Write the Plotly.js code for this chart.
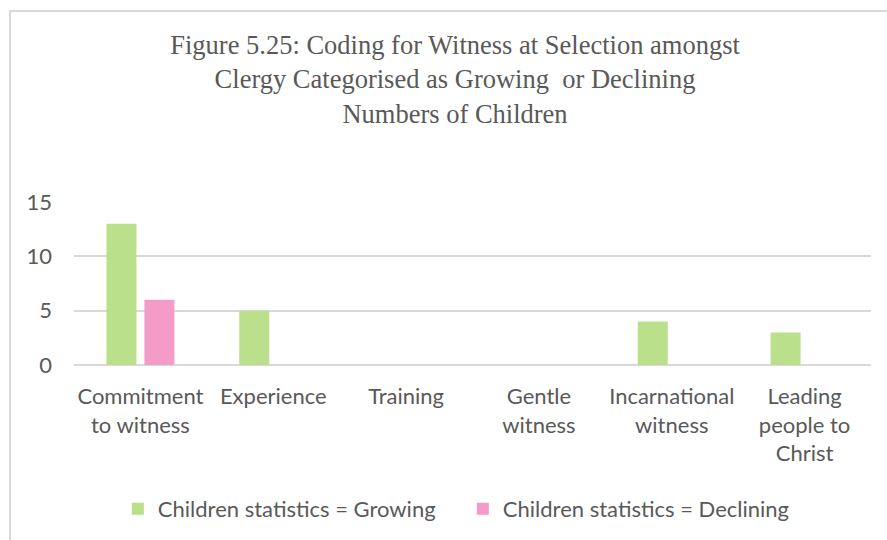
<!DOCTYPE html>
<html>
<head>
<meta charset="utf-8">
<script src="https://cdn.plot.ly/plotly-3.0.1.min.js"></script>
<style>
  html, body { margin: 0; padding: 0; background: #ffffff; }
  #wrap { position: relative; width: 887px; height: 540px; overflow: hidden; }
  #chart { position: absolute; left: 0; top: 0; width: 887px; height: 540px; }
  #frame { position: absolute; left: 9px; top: 10px; width: 900px; height: 600px;
           border-top: 2px solid #d9d9d9; border-left: 2px solid #d9d9d9; pointer-events: none; }
</style>
</head>
<body>
<div id="wrap">
  <div id="chart"></div>
  <div id="frame"></div>
</div>
<script>
const categories = [
  "Commitment<br>to witness",
  "Experience",
  "Training",
  "Gentle<br>witness",
  "Incarnational<br>witness",
  "Leading<br>people to<br>Christ"
];
const growing = [13, 5, 0, 0, 4, 3];
const declining = [6, 0, 0, 0, 0, 0];
const seriesNames = ["Children statistics = Growing", "Children statistics = Declining"];
const yTicks = [0, 5, 10, 15];

const textColor = "#595959";
const sansFont = "Lato, 'Open Sans', sans-serif";

const data = [
  { type: "bar", name: seriesNames[0], x: categories, y: growing,
    marker: { color: "#BAE08C" }, hoverinfo: "x+y+name" },
  { type: "bar", name: seriesNames[1], x: categories, y: declining,
    marker: { color: "#F59BC8" }, hoverinfo: "x+y+name" }
];

const layout = {
  width: 887, height: 540,
  paper_bgcolor: "#ffffff", plot_bgcolor: "#ffffff",
  margin: { l: 74, r: 16, t: 202, b: 174 },
  title: {
    text: "Figure 5.25: Coding for Witness at Selection amongst<br>Clergy Categorised as Growing&nbsp; or Declining<br>Numbers of Children",
    font: { family: "'Liberation Serif', 'Times New Roman', serif", size: 26.5, color: textColor },
    xref: "container", x: 0.513, xanchor: "center",
    yref: "container", y: 1 - 54 / 540, yanchor: "top"
  },
  barmode: "group",
  bargap: 0.428,
  bargroupgap: 0.21,
  xaxis: {
    type: "category",
    showgrid: false, showline: false, zeroline: false, ticks: "",
    tickfont: { family: sansFont, size: 22, color: textColor },
    ticklabelstandoff: 16,
    fixedrange: true
  },
  yaxis: {
    range: [0, 15],
    tickvals: yTicks,
    ticktext: yTicks.map(String),
    showgrid: true, gridcolor: "#d9d9d9", gridwidth: 2,
    zeroline: true, zerolinecolor: "#d9d9d9", zerolinewidth: 2,
    showline: false, ticks: "",
    tickfont: { family: sansFont, size: 22, color: textColor },
    ticklabelstandoff: 21,
    fixedrange: true
  },
  showlegend: true,
  legend: {
    orientation: "h",
    x: 0.055, xanchor: "left",
    y: -0.872, yanchor: "middle",
    entrywidth: 300, entrywidthmode: "pixels",
    font: { family: sansFont, size: 22, color: textColor },
    bgcolor: "rgba(0,0,0,0)",
    traceorder: "normal"
  }
};

Plotly.newPlot("chart", data, layout, { displayModeBar: false, staticPlot: true });
</script>
</body>
</html>
